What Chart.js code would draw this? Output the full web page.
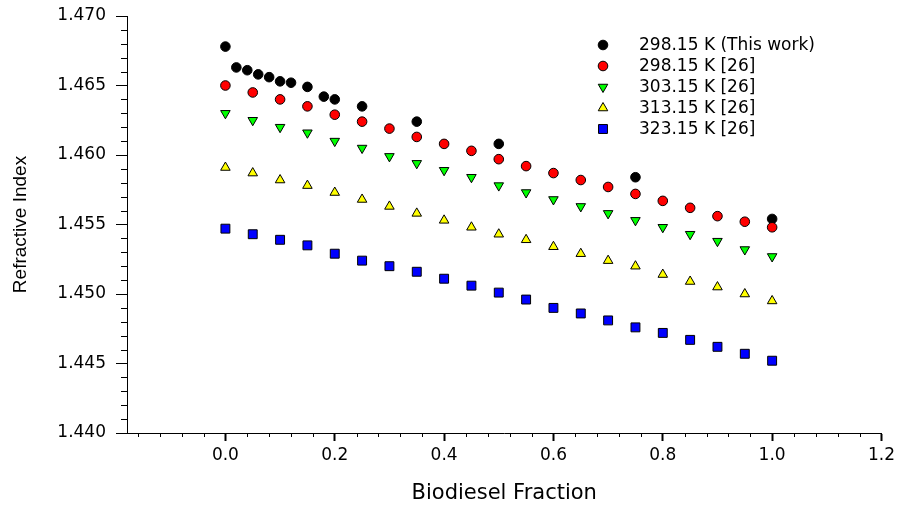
<!DOCTYPE html>
<html>
<head>
<meta charset="utf-8">
<script src="https://cdn.jsdelivr.net/npm/chart.js@4/dist/chart.umd.min.js"></script>
<style>
  html,body{margin:0;padding:0;background:#fff;}
  #wrap{width:899px;height:506px;position:relative;}
</style>
</head>
<body>
<div id="wrap"><canvas id="chart"></canvas></div>
<script>
// --------------------
// DATA
// --------------------
const seriesNames = ['298.15 K (This work)', '298.15 K [26]', '303.15 K [26]', '313.15 K [26]', '323.15 K [26]'];

// this work: uneven fractions
const fracThisWork = [0, 0.02, 0.04, 0.06, 0.08, 0.10, 0.12, 0.15, 0.18, 0.20, 0.25, 0.35, 0.50, 0.75, 1.00];
const ri298Work   = [1.4678, 1.4663, 1.4661, 1.4658, 1.4656, 1.4653, 1.4652, 1.4649, 1.4642, 1.4640, 1.4635, 1.4624, 1.4608, 1.4584, 1.4554];

// ref [26]: every 0.05
const fracRef = [0, 0.05, 0.10, 0.15, 0.20, 0.25, 0.30, 0.35, 0.40, 0.45, 0.50, 0.55, 0.60, 0.65, 0.70, 0.75, 0.80, 0.85, 0.90, 0.95, 1.00];
const ri298Ref = [1.4650, 1.4645, 1.4640, 1.4635, 1.4629, 1.4624, 1.4619, 1.4613, 1.4608, 1.4603, 1.4597, 1.4592, 1.4587, 1.4582, 1.4577, 1.4572, 1.4567, 1.4562, 1.4556, 1.4552, 1.4548];
const ri303Ref = [1.4630, 1.4625, 1.4620, 1.4616, 1.4610, 1.4605, 1.4599, 1.4594, 1.4589, 1.4584, 1.4578, 1.4573, 1.4568, 1.4563, 1.4558, 1.4553, 1.4548, 1.4543, 1.4538, 1.4532, 1.4527];
const ri313Ref = [1.4591, 1.4587, 1.4582, 1.4578, 1.4573, 1.4568, 1.4563, 1.4558, 1.4553, 1.4548, 1.4543, 1.4539, 1.4534, 1.4529, 1.4524, 1.4520, 1.4514, 1.4509, 1.4505, 1.4500, 1.4495];
const ri323Ref = [1.4547, 1.4543, 1.4539, 1.4535, 1.4529, 1.4524, 1.4520, 1.4516, 1.4511, 1.4506, 1.4501, 1.4496, 1.4490, 1.4486, 1.4481, 1.4476, 1.4472, 1.4467, 1.4462, 1.4457, 1.4452];

// axes
const xTicks = [0, 0.2, 0.4, 0.6, 0.8, 1.0, 1.2];
const xTickLabels = ['0.0', '0.2', '0.4', '0.6', '0.8', '1.0', '1.2'];
const yTicks = [1.440, 1.445, 1.450, 1.455, 1.460, 1.465, 1.470];
const yTickLabels = ['1.440', '1.445', '1.450', '1.455', '1.460', '1.465', '1.470'];

// --------------------
// HELPERS
// --------------------
function pts(xs, ys){ return xs.map((x,i)=>({x:x, y:ys[i]})); }

function ds(label, xs, ys, style, color, radius, rot, order){
  return {
    label: label, data: pts(xs, ys), showLine:false, order: order,
    pointStyle: style, rotation: rot, pointRadius: radius, pointHoverRadius: radius,
    backgroundColor: color, borderColor: '#000', pointBorderWidth: 1, borderWidth: 1
  };
}

// minor ticks (drawn through the scales)
const minorTicks = {
  id: 'minorTicks',
  afterDraw(chart){
    const ctx = chart.ctx, xs = chart.scales.x, ys = chart.scales.y;
    ctx.save();
    ctx.strokeStyle = '#000'; ctx.lineWidth = 1;
    ctx.beginPath();
    for(let i=-4;i<=30;i++){
      if(i%5===0) continue;
      const px = Math.round(xs.getPixelForValue(i*0.04))+0.5;
      ctx.moveTo(px, ys.bottom); ctx.lineTo(px, ys.bottom+4);
    }
    for(let i=1;i<30;i++){
      if(i%5===0) continue;
      const py = Math.round(ys.getPixelForValue(1.440 + i*0.001))+0.5;
      ctx.moveTo(xs.left, py); ctx.lineTo(xs.left-6, py);
    }
    ctx.stroke();
    ctx.restore();
  }
};

// legend inside the plot, top-right
const innerLegend = {
  id: 'innerLegend',
  afterDraw(chart){
    const ctx = chart.ctx;
    const mx = 603, tx = 639, y0 = 45, dy = 21;
    ctx.save();
    chart.data.datasets.forEach((d,i)=>{
      const y = y0 + i*dy;
      ctx.fillStyle = d.backgroundColor; ctx.strokeStyle = '#000'; ctx.lineWidth = 1;
      Chart.helpers.drawPoint(ctx, {pointStyle:d.pointStyle, rotation:d.rotation, radius:d.pointRadius, borderWidth:1}, mx, y);
      ctx.fillStyle = '#000';
      ctx.font = '17px "DejaVu Sans"';
      ctx.textBaseline = 'middle'; ctx.textAlign = 'left';
      ctx.fillText(d.label, tx, y+1);
    });
    ctx.restore();
  }
};

// --------------------
// CHART
// --------------------
const chart = new Chart(document.getElementById('chart').getContext('2d'), {
  type: 'scatter',
  data: { datasets: [
    ds(seriesNames[0], fracThisWork, ri298Work, 'circle', '#000000', 4.8, 0, 1),
    ds(seriesNames[1], fracRef, ri298Ref, 'circle', '#ff0000', 4.8, 0, 0),
    ds(seriesNames[2], fracRef, ri303Ref, 'triangle', '#00ff00', 5.5, 180, 0),
    ds(seriesNames[3], fracRef, ri313Ref, 'triangle', '#ffff00', 5.5, 0, 0),
    ds(seriesNames[4], fracRef, ri323Ref, 'rect', '#0000ff', 6.3, 0, 0)
  ]},
  options: {
    responsive: true, maintainAspectRatio: false, animation: false,
    layout: { padding: {left: 9, right: 17, top: 16, bottom: 0} },
    plugins: { legend: {display:false}, tooltip: {enabled:false} },
    scales: {
      x: {
        type: 'linear', min: -0.18, max: 1.2,
        afterBuildTicks: s => { s.ticks = xTicks.map(v=>({value:v})); },
        afterFit: s => { s.height = 73; },
        grid: { drawOnChartArea:false, drawTicks:true, tickLength:8, tickColor:'#000', tickWidth:2 },
        border: { display:true, color:'#000', width:1 },
        ticks: {
          color:'#000', font:{family:'DejaVu Sans', size:17}, padding:4, maxRotation:0,
          callback: (v) => xTickLabels[xTicks.findIndex(t=>Math.abs(t-v)<1e-9)]
        },
        title: { display:true, text:'Biodiesel Fraction', color:'#000', font:{family:'DejaVu Sans', size:21}, padding:{top:0,bottom:0} }
      },
      y: {
        type: 'linear', min: 1.44, max: 1.47,
        afterBuildTicks: s => { s.ticks = yTicks.map(v=>({value:v})); },
        afterFit: s => { s.width = 118; s.paddingTop = 0; s.paddingBottom = 0; },
        grid: { drawOnChartArea:false, drawTicks:true, tickLength:11, tickColor:'#000', tickWidth:1 },
        border: { display:true, color:'#000', width:1 },
        ticks: {
          color:'#000', font:{family:'DejaVu Sans', size:17}, padding:10,
          callback: (v) => yTickLabels[yTicks.findIndex(t=>Math.abs(t-v)<1e-9)]
        },
        title: { display:true, text:'Refractive Index', color:'#000', font:{family:'Liberation Sans', size:19}, padding:{top:0,bottom:0} }
      }
    }
  },
  plugins: [minorTicks, innerLegend]
});
</script>
</body>
</html>
